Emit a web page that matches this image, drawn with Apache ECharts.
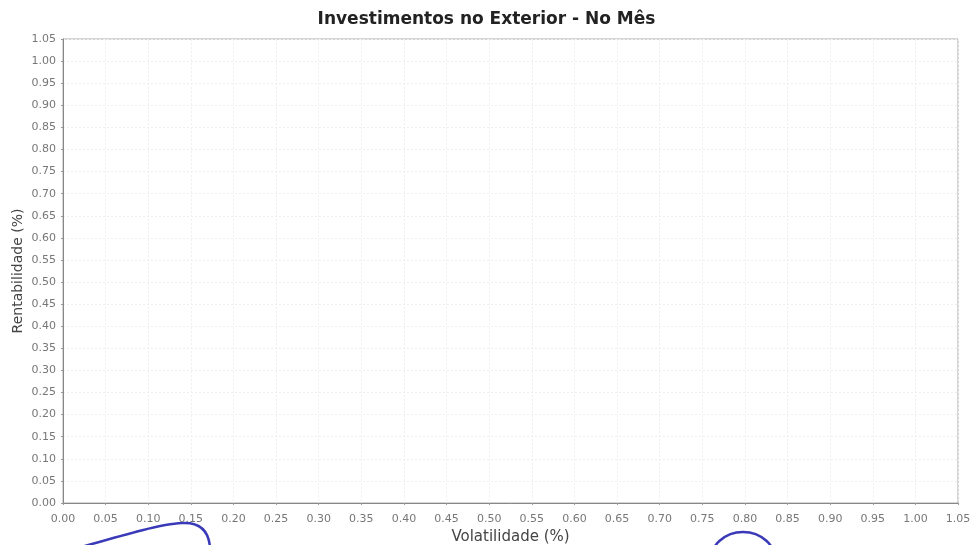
<!DOCTYPE html>
<html>
<head>
<meta charset="utf-8">
<script src="https://cdn.jsdelivr.net/npm/echarts@6/dist/echarts.min.js"></script>
<style>html,body{margin:0;padding:0;background:#fff}#c{width:973px;height:545px}</style>
</head>
<body>
<div id="c"></div>
<script>
// Data: the chart plots no points (empty scatter)
const volatilidade = [];
const rentabilidade = [];
const axisMin = 0;
const axisMax = 1.05;
const axisStep = 0.05;

const points = volatilidade.map((v, i) => [v, rentabilidade[i]]);

const chart = echarts.init(document.getElementById('c'));
const labelStyle = { color: '#777', fontFamily: 'DejaVu Sans', fontSize: 11, formatter: v => v.toFixed(2) };
const gridLine = { show: true, lineStyle: { color: '#efefef', type: [2, 2], width: 1 } };
chart.setOption({
  backgroundColor: '#fff',
  animation: false,
  title: {
    text: 'Investimentos no Exterior - No Mês',
    left: 'center', top: 6,
    textStyle: { fontFamily: 'DejaVu Sans', fontWeight: 'bold', fontSize: 17, color: '#222' }
  },
  grid: { left: 63, right: 15, top: 39, bottom: 42, containLabel: false, outerBoundsMode: 'none', show: true, borderColor: '#aaa', borderWidth: 1 },
  xAxis: {
    type: 'value', min: axisMin, max: axisMax, interval: axisStep,
    name: 'Volatilidade (%)', nameLocation: 'middle', nameGap: 27,
    nameTextStyle: { fontFamily: 'DejaVu Sans', fontSize: 15, color: '#444' },
    axisLine: { show: true, lineStyle: { color: '#888' } },
    axisTick: { show: true, length: 2, lineStyle: { color: '#999' } },
    axisLabel: Object.assign({ margin: 11 }, labelStyle),
    splitLine: gridLine
  },
  yAxis: {
    type: 'value', min: axisMin, max: axisMax, interval: axisStep,
    name: 'Rentabilidade (%)', nameLocation: 'middle', nameGap: 38, nameRotate: 90,
    nameMoveOverlap: false,
    nameTextStyle: { fontFamily: 'DejaVu Sans', fontSize: 14, color: '#444' },
    axisLine: { show: true, lineStyle: { color: '#888' } },
    axisTick: { show: true, length: 2, lineStyle: { color: '#999' } },
    axisLabel: Object.assign({ margin: 7 }, labelStyle),
    splitLine: gridLine
  },
  series: [{ type: 'scatter', data: points, symbolSize: 6 }],
  graphic: [
    {
      type: 'bezierCurve',
      shape: { x1: 78, y1: 548, cpx1: 120, cpy1: 536, cpx2: 160, cpy2: 524, x2: 182, y2: 523 },
      style: { stroke: '#3a3ab8', lineWidth: 2.5, fill: null }
    },
    {
      type: 'bezierCurve',
      shape: { x1: 182, y1: 523, cpx1: 200, cpy1: 522, cpx2: 209, cpy2: 531, x2: 210, y2: 548 },
      style: { stroke: '#3a3ab8', lineWidth: 2.5, fill: null }
    },
    {
      type: 'ellipse',
      shape: { cx: 743, cy: 562, rx: 33, ry: 30 },
      style: { stroke: '#3a3ab8', lineWidth: 2.5, fill: null }
    }
  ]
});
</script>
</body>
</html>
